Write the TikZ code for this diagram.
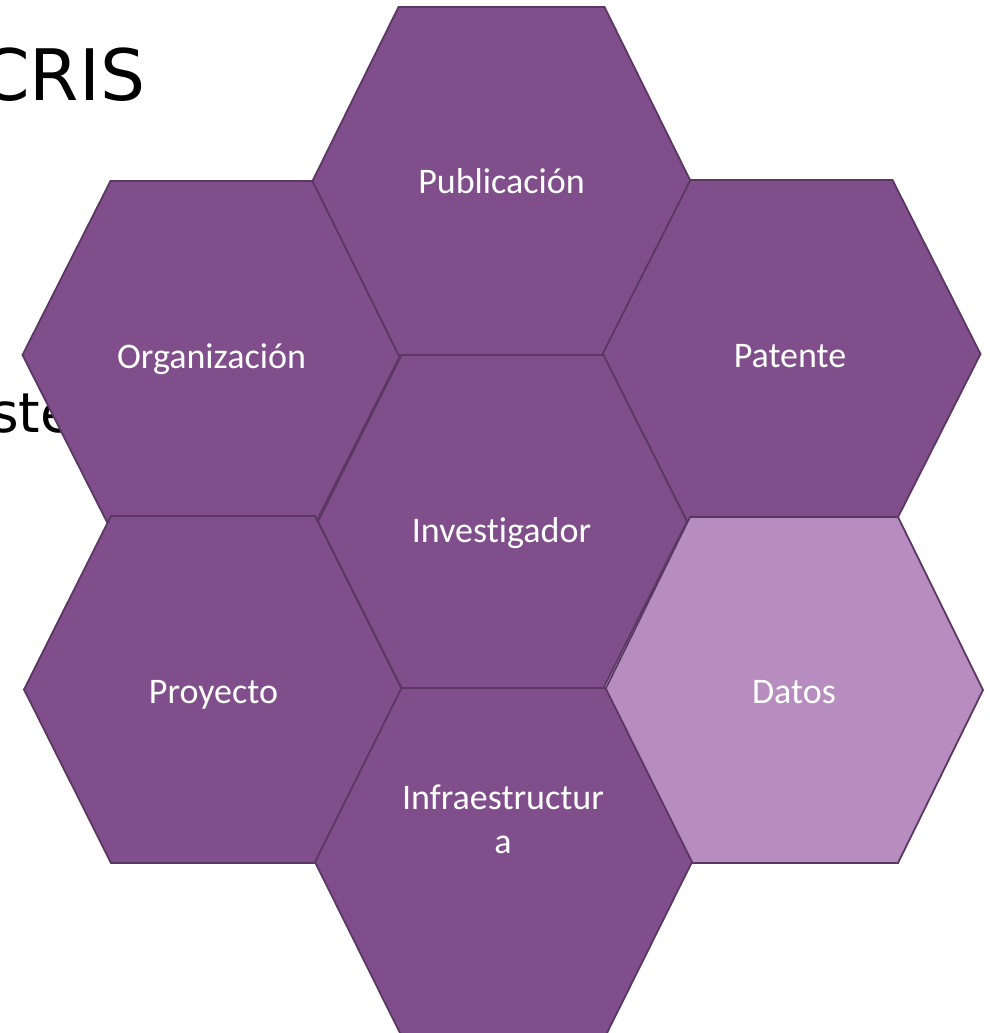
\documentclass[tikz,border=0pt]{standalone}
\usepackage{xcolor}
\usepackage{fontspec}
\setmainfont[Ligatures=NoCommon]{Carlito}
\newfontfamily\fundo{DejaVu Sans}
\usepackage{tikz}

\definecolor{roxo}{HTML}{804E8B}
\definecolor{roxoclaro}{HTML}{B78DC0}
\definecolor{borda}{HTML}{5B3864}

\tikzset{
	favo/.style={fill=roxo, draw=borda, line width=1.8pt, line join=miter},
	favoclaro/.style={favo, fill=roxoclaro},
	rotulo/.style={text=white, font=\fontsize{36}{44}\selectfont, anchor=base, align=center, inner sep=0pt},
	titulo/.style={text=black, anchor=base west, inner sep=0pt}
}

\begin{document}
\begin{tikzpicture}[x=1pt,y=-1pt]
	\useasboundingbox (0,0) rectangle (989,1033);
	
	% Texto do slide (atras)
	\node[titulo, font=\fundo\fontsize{71}{80}\selectfont] (cris) at (-20,100) {CRIS};
	\node[titulo, font=\fundo\fontsize{55}{62}\selectfont] (ste) at (-10,432) {ste};
	
	% Organizacao
	\filldraw[favo, shift={(211.5,355)}] (-189,0) -- (-101,-174) -- (101,-174) -- (189,0) -- (101,174) -- (-101,174) -- cycle;
	\node[rotulo] (org) at (211.5,368) {Organización};
	
	% Publicacao
	\filldraw[favo, shift={(501.5,181)}] (-189,0) -- (-103,-174) -- (103,-174) -- (189,0) -- (103,174) -- (-103,174) -- cycle;
	\node[rotulo] (pub) at (501.5,193) {Publicación};
	
	% Patente
	\filldraw[favo, shift={(791.5,354)}] (-189,0) -- (-101,-174) -- (101,-174) -- (189,0) -- (101,174) -- (-101,174) -- cycle;
	\node[rotulo] (pat) at (790,367) {Patente};
	
	% Investigador
	\filldraw[favo, shift={(502.5,521.5)}] (-184.5,0) -- (-101,-166.5) -- (101,-166.5) -- (184.5,0) -- (101,166.5) -- (-101,166.5) -- cycle;
	\node[rotulo] (inv) at (501.5,542) {Investigador};
	
	% Proyecto
	\filldraw[favo, shift={(213,689.5)}] (-189,0) -- (-102,-173.5) -- (102,-173.5) -- (189,0) -- (102,173.5) -- (-102,173.5) -- cycle;
	\node[rotulo] (proy) at (213.5,703) {Proyecto};
	
	% Datos
	\filldraw[favoclaro, shift={(794,690)}] (-189,0) -- (-104,-173) -- (104,-173) -- (189,0) -- (104,173) -- (-104,173) -- cycle;
	\node[rotulo] (dat) at (794,703) {Datos};
	
	% Infraestructura
	\filldraw[favo, shift={(503.5,862)}] (-188.5,0) -- (-102,-174) -- (102,-174) -- (188.5,0) -- (102,174) -- (-102,174) -- cycle;
	\node[rotulo] (infra) at (503,853) {Infraestructur\\a};
\end{tikzpicture}
\end{document}
